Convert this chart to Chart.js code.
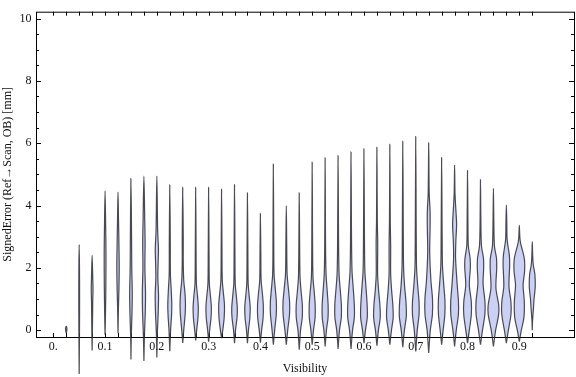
<!DOCTYPE html>
<html>
<head>
<meta charset="utf-8">
<script src="https://cdn.jsdelivr.net/npm/chart.js@4.4.1/dist/chart.umd.min.js"></script>
<style>
  html, body { margin: 0; padding: 0; background: #fff; }
</style>
</head>
<body>
<canvas id="violin-chart" width="576" height="377"></canvas>
<script>
// one violin per visibility bin
const VIOLIN_POSITIONS = [
  0.025, 0.05, 0.075, 0.1, 0.125, 0.15, 0.175, 0.2, 0.225, 0.25,
  0.275, 0.3, 0.325, 0.35, 0.375, 0.4, 0.425, 0.45, 0.475, 0.5,
  0.525, 0.55, 0.575, 0.6, 0.625, 0.65, 0.675, 0.7, 0.725, 0.75,
  0.775, 0.8, 0.825, 0.85, 0.875, 0.9, 0.925
];

// [signed error, density] from min to max
const VIOLIN_PROFILES = [
  [[-0.1, 0], [0.0, 0.6], [0.06, 0.7], [0.12, 0]],
  [[-1.41, 0], [0, 0.3], [1, 0.4], [2, 0.3], [2.74, 0]],
  [[-0.65, 0], [0, 0.3], [0.9, 0.6], [1.3, 0.9], [1.7, 0.6], [2.4, 0]],
  [[-0.15, 0], [0.5, 0.4], [1.5, 0.8], [2.5, 0.9], [3.3, 0.6], [4.47, 0]],
  [[-0.1, 0], [0.7, 0.4], [1.3, 0.9], [2.0, 1.2], [2.8, 0.9], [3.5, 0.5], [4.43, 0]],
  [[-0.94, 0], [-0.2, 0.3], [0.5, 1.0], [1.2, 1.3], [2.0, 0.8], [3.0, 0.6], [4.86, 0]],
  [[-0.99, 0], [-0.2, 0.5], [0.6, 1.4], [1.2, 1.6], [2.0, 1.0], [2.8, 1.2], [3.6, 0.8], [4.94, 0]],
  [[-0.88, 0], [-0.1, 0.5], [0.5, 1.3], [1.1, 1.7], [1.7, 1.0], [2.2, 1.3], [2.6, 1.6], [3.2, 0.8], [4.94, 0]],
  [[-0.68, 0], [0, 0.8], [0.5, 1.8], [0.85, 2.0], [1.3, 1.4], [1.8, 0.6], [2.8, 0.5], [4.66, 0]],
  [[-0.41, 0], [0, 1.0], [0.5, 2.4], [0.85, 2.7], [1.2, 2.2], [1.6, 1.0], [2.2, 0.5], [3.0, 0.5], [4.58, 0]],
  [[-0.33, 0], [0, 1.0], [0.4, 2.3], [0.75, 2.6], [1.1, 1.8], [1.5, 0.7], [2.5, 0.4], [4.58, 0]],
  [[-0.37, 0], [0, 1.0], [0.4, 2.4], [0.75, 2.7], [1.1, 1.8], [1.5, 0.7], [2.5, 0.4], [4.58, 0]],
  [[-0.26, 0], [0, 1.2], [0.4, 2.6], [0.8, 2.9], [1.2, 1.8], [1.6, 0.7], [2.6, 0.4], [4.52, 0]],
  [[-0.42, 0], [0, 1.0], [0.4, 2.5], [0.7, 2.8], [1.1, 1.8], [1.5, 0.7], [2.6, 0.4], [4.67, 0]],
  [[-0.42, 0], [0, 1.0], [0.4, 2.4], [0.75, 2.7], [1.1, 1.7], [1.5, 0.7], [2.6, 0.4], [4.41, 0]],
  [[-0.4, 0], [0, 1.2], [0.4, 2.7], [0.8, 2.9], [1.2, 1.9], [1.6, 0.7], [2.5, 0.4], [3.74, 0]],
  [[-0.47, 0], [0, 1.3], [0.5, 2.9], [0.9, 3.0], [1.3, 2.0], [1.8, 0.7], [2.8, 0.4], [5.33, 0]],
  [[-0.47, 0], [0, 1.4], [0.5, 3.2], [0.9, 3.3], [1.3, 2.2], [1.8, 0.8], [2.8, 0.4], [3.99, 0]],
  [[-0.63, 0], [0, 1.3], [0.4, 3.0], [0.8, 3.1], [1.2, 2.0], [1.7, 0.8], [2.7, 0.4], [4.41, 0]],
  [[-0.47, 0], [0, 1.3], [0.4, 2.9], [0.8, 3.0], [1.2, 2.1], [1.7, 0.8], [2.7, 0.4], [5.39, 0]],
  [[-0.52, 0], [0, 1.3], [0.4, 2.9], [0.8, 3.0], [1.2, 2.2], [1.8, 0.9], [2.8, 0.4], [5.53, 0]],
  [[-0.6, 0], [0, 1.4], [0.4, 3.2], [0.8, 3.3], [1.2, 2.4], [1.8, 1.0], [2.8, 0.5], [5.60, 0]],
  [[-0.6, 0], [0, 1.5], [0.4, 3.3], [0.8, 3.3], [1.3, 2.3], [1.9, 1.0], [2.9, 0.5], [5.72, 0]],
  [[-0.42, 0], [0, 1.5], [0.4, 3.3], [0.8, 3.2], [1.3, 2.2], [1.9, 0.9], [2.9, 0.5], [5.82, 0]],
  [[-0.5, 0], [0, 1.5], [0.4, 3.3], [0.8, 3.0], [1.3, 1.6], [1.8, 0.7], [2.8, 0.8], [3.5, 0.4], [5.87, 0]],
  [[-0.47, 0], [0, 1.6], [0.4, 3.3], [0.8, 3.0], [1.3, 1.7], [1.8, 0.8], [2.7, 0.8], [3.5, 0.4], [5.96, 0]],
  [[-0.55, 0], [0, 1.6], [0.45, 3.5], [0.9, 3.2], [1.4, 1.8], [2.0, 0.8], [3.0, 0.5], [6.06, 0]],
  [[-0.68, 0], [0, 1.5], [0.5, 3.3], [0.9, 3.3], [1.4, 2.0], [2.0, 0.8], [3.0, 0.5], [6.21, 0]],
  [[-0.73, 0], [0, 1.6], [0.5, 3.7], [1.0, 3.8], [1.6, 2.2], [2.5, 1.0], [3.3, 1.4], [3.8, 1.4], [4.4, 0.5], [6.01, 0]],
  [[-0.47, 0], [0, 1.5], [0.5, 3.2], [0.95, 3.3], [1.5, 2.0], [2.1, 0.8], [3.0, 0.5], [5.54, 0]],
  [[-0.52, 0], [0, 1.7], [0.5, 3.8], [0.9, 3.9], [1.5, 2.5], [2.3, 1.0], [2.8, 1.2], [3.4, 2.0], [3.9, 1.2], [4.4, 0.4], [5.30, 0]],
  [[-0.42, 0], [0, 1.8], [0.5, 3.8], [0.9, 3.8], [1.45, 1.8], [2.0, 2.8], [2.3, 2.6], [2.7, 0.8], [3.5, 0.4], [5.12, 0]],
  [[-0.47, 0], [0, 2.0], [0.5, 4.4], [0.9, 4.5], [1.5, 2.6], [2.0, 3.2], [2.3, 3.0], [2.7, 1.0], [3.5, 0.4], [4.83, 0]],
  [[-0.52, 0], [0, 2.2], [0.5, 5.2], [0.8, 5.3], [1.35, 2.5], [2.0, 3.3], [2.3, 3.1], [2.7, 1.0], [3.5, 0.4], [4.55, 0]],
  [[-0.42, 0], [0, 2.0], [0.5, 4.6], [0.9, 4.6], [1.4, 2.6], [2.1, 3.3], [2.4, 3.0], [2.9, 0.8], [3.5, 0.4], [4.01, 0]],
  [[-0.37, 0], [0, 2.0], [0.4, 4.6], [0.9, 5.0], [1.45, 3.8], [1.9, 5.3], [2.3, 5.0], [2.8, 1.2], [3.0, 0.5], [3.36, 0]],
  [[0, 0], [0.3, 0.3], [0.7, 1.2], [1.0, 1.8], [1.4, 3.0], [1.8, 2.6], [2.1, 1.0], [2.4, 0.4], [2.84, 0]]
];

const X_TICKS = [
  0, 0.025, 0.05, 0.075, 0.1, 0.125, 0.15, 0.175, 0.2, 0.225,
  0.25, 0.275, 0.3, 0.325, 0.35, 0.375, 0.4, 0.425, 0.45, 0.475,
  0.5, 0.525, 0.55, 0.575, 0.6, 0.625, 0.65, 0.675, 0.7, 0.725,
  0.75, 0.775, 0.8, 0.825, 0.85, 0.875, 0.9, 0.925
];
const X_LABEL_TICKS = [0, 0.1, 0.2, 0.3, 0.4, 0.5, 0.6, 0.7, 0.8, 0.9];
const Y_TICKS = [0, 0.5, 1, 1.5, 2, 2.5, 3, 3.5, 4, 4.5, 5, 5.5, 6, 6.5, 7, 7.5, 8, 8.5, 9, 9.5, 10];
const Y_LABEL_TICKS = [0, 2, 4, 6, 8, 10];

const VIOLIN_HALF_WIDTH = 0.00193; // x units per density unit
const VIOLIN_FILL = 'rgb(203, 209, 245)';
const VIOLIN_EDGE = 'rgba(45, 45, 55, 0.85)';
const TEXT_COLOR = '#111';
const FONT_FAMILY = '"Liberation Serif", "DejaVu Serif", serif';

const violinDatasets = VIOLIN_POSITIONS.map((pos, i) => {
  const profile = VIOLIN_PROFILES[i];
  const rightSide = profile.map(([v, d]) => ({ x: pos + d * VIOLIN_HALF_WIDTH, y: v }));
  const leftSide = profile.slice(0, -1).reverse().map(([v, d]) => ({ x: pos - d * VIOLIN_HALF_WIDTH, y: v }));
  return {
    data: rightSide.concat(leftSide),
    showLine: true,
    fill: 'shape',
    backgroundColor: VIOLIN_FILL,
    borderColor: VIOLIN_EDGE,
    borderWidth: 1.2,
    pointRadius: 0,
    tension: 0.3,
    clip: false,
  };
});

// frame with inward ticks, like the original
const frameTicksPlugin = {
  id: 'frameTicks',
  beforeDatasetsDraw(chart) {
    const { ctx, chartArea: a, scales: { x, y } } = chart;
    ctx.save();
    ctx.strokeStyle = '#000';
    ctx.lineWidth = 1;
    ctx.beginPath();
    X_TICKS.forEach(v => {
      const px = Math.round(x.getPixelForValue(v)) + 0.5;
      ctx.moveTo(px, a.top);
      ctx.lineTo(px, a.top + 4);
      ctx.moveTo(px, a.bottom);
      ctx.lineTo(px, a.bottom - 4);
    });
    Y_TICKS.forEach(v => {
      const len = Y_LABEL_TICKS.includes(v) ? 5 : 3;
      const py = Math.round(y.getPixelForValue(v)) + 0.5;
      ctx.moveTo(a.left, py);
      ctx.lineTo(a.left + len, py);
      ctx.moveTo(a.right, py);
      ctx.lineTo(a.right - len, py);
    });
    ctx.stroke();
    ctx.strokeRect(a.left + 0.5, a.top + 0.5, a.right - a.left, a.bottom - a.top);
    ctx.restore();
  }
};

const violinChartConfig = {
  type: 'scatter',
  data: { datasets: violinDatasets },
  options: {
    responsive: false,
    animation: false,
    events: [],
    layout: { padding: { left: 0, right: 2, top: 4, bottom: 0 } },
    plugins: {
      legend: { display: false },
      tooltip: { enabled: false },
    },
    scales: {
      x: {
        type: 'linear',
        min: -0.0334,
        max: 1.0056,
        grid: { display: false, drawTicks: false },
        border: { display: false },
        afterBuildTicks: scale => { scale.ticks = X_LABEL_TICKS.map(v => ({ value: v })); },
        afterFit: scale => { scale.height = 40; },
        ticks: {
          padding: 3,
          color: TEXT_COLOR,
          font: { family: FONT_FAMILY, size: 12 },
          maxRotation: 0,
          autoSkip: false,
          callback: v => v === 0 ? '0.' : v.toFixed(1),
        },
        title: {
          display: true,
          text: 'Visibility',
          color: TEXT_COLOR,
          font: { family: FONT_FAMILY, size: 12 },
          padding: { top: 0, bottom: 1 },
        },
      },
      y: {
        type: 'linear',
        min: -0.22,
        max: 10.22,
        grid: { display: false, drawTicks: false },
        border: { display: false },
        afterBuildTicks: scale => { scale.ticks = Y_LABEL_TICKS.map(v => ({ value: v })); },
        afterFit: scale => { scale.width = 36; },
        ticks: {
          padding: 4.5,
          color: TEXT_COLOR,
          font: { family: FONT_FAMILY, size: 12 },
          autoSkip: false,
          callback: v => String(v),
        },
        title: {
          display: true,
          text: 'SignedError (Ref\u2192Scan, OB) [mm]',
          color: TEXT_COLOR,
          font: { family: FONT_FAMILY, size: 12 },
          padding: { top: 1, bottom: 0 },
        },
      },
    },
  },
  plugins: [frameTicksPlugin],
};

const violinChartCanvas = document.getElementById('violin-chart');
const violinChart = new Chart(violinChartCanvas, violinChartConfig);
</script>
</body>
</html>
